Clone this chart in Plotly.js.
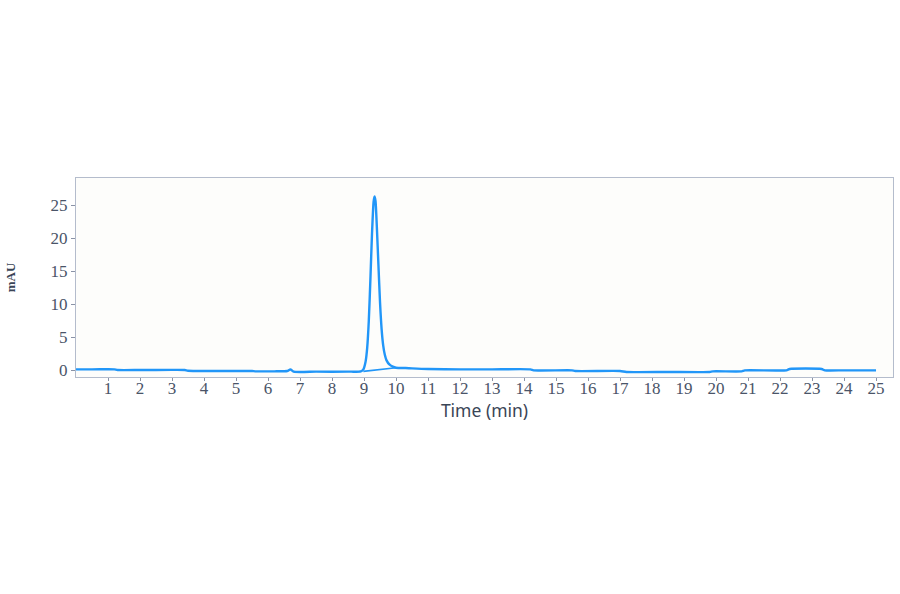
<!DOCTYPE html>
<html>
<head>
<meta charset="utf-8">
<script src="https://cdn.plot.ly/plotly-3.0.1.min.js"></script>
<style>
html,body{margin:0;padding:0;background:#ffffff;}
#chart{width:900px;height:594px;}
</style>
</head>
<body>
<div id="chart"></div>
<script>
// Retention time (min)
var timeMin = [0.0, 0.5, 1.0, 1.2, 1.3, 2.0, 3.0, 3.4, 3.5, 4.5, 5.5, 5.6, 6.2, 6.6, 6.7, 6.8, 7.5, 8.5, 8.9,
  8.98, 9.05, 9.1, 9.15, 9.2, 9.25, 9.3, 9.33, 9.36, 9.4, 9.45, 9.5, 9.55, 9.6, 9.65, 9.7, 9.8, 9.9, 10.0,
  10.3, 10.5, 11.0, 12.0, 13.0, 14.2, 14.3, 15.5, 15.6, 17.0, 17.2, 18.5, 19.8, 19.9, 20.8, 20.9, 22.2, 22.3,
  23.3, 23.4, 24.0, 25.0];
// Signal (mAU)
var signalMAU = [0.1, 0.1, 0.12, 0.1, 0.0, 0.0, 0.02, 0.0, -0.12, -0.15, -0.15, -0.2, -0.2, -0.15, 0.1, -0.25, -0.25, -0.25, -0.2,
  0.1, 1.3, 3.4, 7.5, 13.8, 20.7, 25.5, 26.3, 25.6, 21.8, 16.0, 10.3, 6.2, 3.7, 2.3, 1.5, 0.8, 0.5, 0.35,
  0.3, 0.25, 0.15, 0.1, 0.1, 0.1, -0.05, -0.05, -0.15, -0.15, -0.3, -0.3, -0.3, -0.2, -0.2, -0.05, -0.05, 0.15,
  0.15, -0.05, -0.05, -0.05];
// Integration baseline under the peak
var baseTime = [8.98, 10.0];
var baseMAU = [-0.2, 0.35];

var xTicks = [1,2,3,4,5,6,7,8,9,10,11,12,13,14,15,16,17,18,19,20,21,22,23,24,25];
var yTicks = [0,5,10,15,20,25];

var lineColor = '#2196f8';
var data = [
  {x: timeMin, y: signalMAU, type: 'scatter', mode: 'lines',
   line: {color: lineColor, width: 2.4, shape: 'spline', smoothing: 0.6}, hoverinfo: 'x+y'},
  {x: baseTime, y: baseMAU, type: 'scatter', mode: 'lines',
   line: {color: lineColor, width: 1.6}, hoverinfo: 'skip'}
];

var tickFont = {family: '"Liberation Serif", "DejaVu Serif", serif', size: 17, color: '#4a5468'};
var layout = {
  width: 900, height: 594,
  paper_bgcolor: '#ffffff',
  plot_bgcolor: '#fdfdfb',
  showlegend: false,
  margin: {l: 76, r: 7, t: 178, b: 217, pad: 0},
  xaxis: {
    range: [0, 25.53],
    tickvals: xTicks,
    ticks: 'outside', ticklen: 3, tickwidth: 1, tickcolor: '#8a93a6',
    ticklabelstandoff: -7,
    showgrid: false, zeroline: false,
    showline: true, linecolor: '#b4bccc', linewidth: 1, mirror: true,
    tickfont: tickFont,
    title: {text: 'Time (min)', font: {family: '"Noto Sans", "Open Sans", sans-serif', size: 17.5, color: '#3a4556'}, standoff: 0}
  },
  yaxis: {
    range: [-1.06, 29.1],
    tickvals: yTicks,
    ticks: 'outside', ticklen: 4, tickwidth: 1, tickcolor: '#8a93a6',
    showgrid: false, zeroline: false,
    showline: true, linecolor: '#b4bccc', linewidth: 1, mirror: true,
    tickfont: tickFont,
    title: {text: 'mAU', font: {family: '"Liberation Serif", "DejaVu Serif", serif', size: 13, color: '#3a4556', weight: 'bold'}, standoff: 32}
  }
};

Plotly.newPlot('chart', data, layout, {displayModeBar: false, staticPlot: true});
</script>
</body>
</html>
